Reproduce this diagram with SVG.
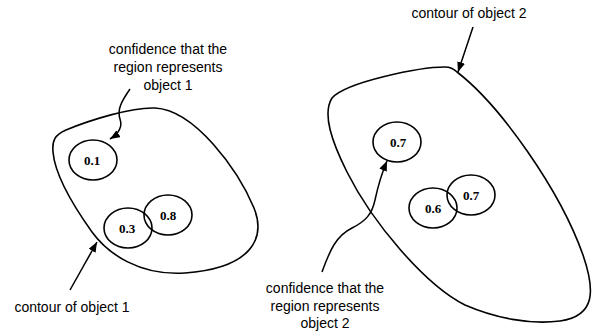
<svg xmlns="http://www.w3.org/2000/svg" width="593" height="333" viewBox="0 0 593 333">
<defs>
<marker id="ah" viewBox="0 0 10 8" refX="10" refY="4" markerWidth="10" markerHeight="8" markerUnits="userSpaceOnUse" orient="auto">
<path d="M0,0 L10,4 L0,8 Z" fill="#000"/>
</marker>
</defs>
<style>
.contour{fill:none;stroke:#000;stroke-width:1.6}
.reg{fill:none;stroke:#000;stroke-width:1.6}
.num{font-family:"Liberation Serif","Times New Roman",serif;font-weight:bold;font-size:13px;text-anchor:middle;fill:#000}
.lbl{font-family:"Liberation Sans",Arial,sans-serif;font-size:14px;text-anchor:middle;fill:#000}
.conn{fill:none;stroke:#000;stroke-width:1.5;marker-end:url(#ah)}
</style>
<rect width="593" height="333" fill="#fff"/>
<g id="object1">
<path class="contour" d="M155,108 C195,110 238,170 254,208 C266,238 252,268 185,273 C140,276 108,254 92,232 C72,204 55,175 53,152 C52,140 55,135 66,130 C90,120 132,107 155,108 Z"/>
</g>
<g id="object2">
<path class="contour" d="M457,72 C500,105 560,190 583,255 C595,290 596,316 560,321 C530,325 495,318 465,305 C425,285 372,222 347,172 C332,142 322,114 332,98 C346,82 420,67 445,67 C451,67 454,69 457,72 Z"/>
</g>
<g id="r1"><ellipse class="reg" cx="93" cy="160" rx="24" ry="20"/><text class="num" x="92" y="165">0.1</text></g>
<g id="r2"><ellipse class="reg" cx="128" cy="228" rx="24" ry="20"/><text class="num" x="127" y="233">0.3</text></g>
<g id="r3"><ellipse class="reg" cx="168" cy="215" rx="24" ry="20"/><text class="num" x="168" y="220">0.8</text></g>
<g id="r4"><ellipse class="reg" cx="397" cy="142" rx="24" ry="20"/><text class="num" x="398" y="147">0.7</text></g>
<g id="r5"><ellipse class="reg" cx="433" cy="208" rx="24" ry="20"/><text class="num" x="433" y="213">0.6</text></g>
<g id="r6"><ellipse class="reg" cx="471" cy="195" rx="24" ry="20"/><text class="num" x="471" y="200">0.7</text></g>
<g id="label1"><text class="lbl" x="168" y="54">confidence that the</text><text class="lbl" x="168" y="72">region represents</text><text class="lbl" x="168" y="90">object 1</text></g>
<g id="label2"><text class="lbl" x="325" y="293">confidence that the</text><text class="lbl" x="325" y="311">region represents</text><text class="lbl" x="325" y="328">object 2</text></g>
<g id="label3"><text class="lbl" x="72" y="312">contour of object 1</text></g>
<g id="label4"><text class="lbl" x="469" y="18">contour of object 2</text></g>
<g id="connectors">
<path class="conn" d="M130,89 C121,102 117,110 120,119 C123,128 118,134 110,139"/>
<path class="conn" d="M322,272 C330,250 336,236 352,228 C366,221 372,214 375,200 C378,186 381,175 387,161"/>
<path class="conn" d="M70,290 L97,242"/>
<path class="conn" d="M473,27 L458,72"/>
</g>
</svg>
